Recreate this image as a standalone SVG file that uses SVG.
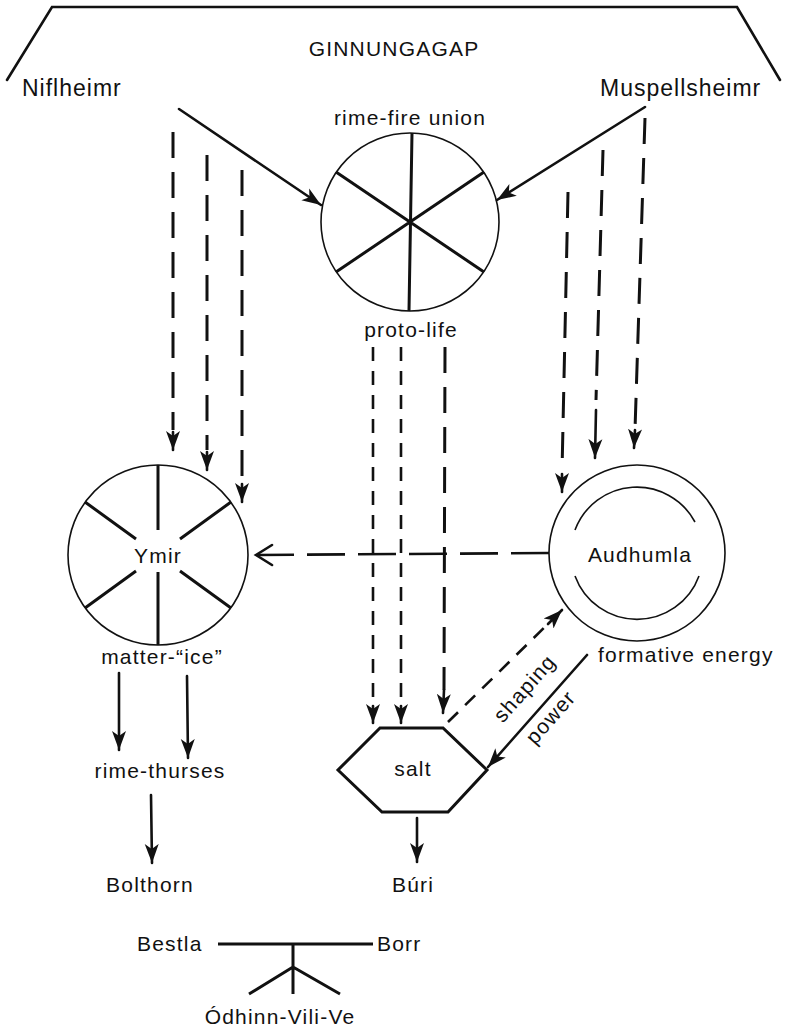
<svg xmlns="http://www.w3.org/2000/svg" width="785" height="1031" viewBox="0 0 785 1031">
<style>
text{font-family:"Liberation Sans",Arial,sans-serif;font-size:21px;letter-spacing:1.2px;fill:#111}
.c{text-anchor:middle}
.big{font-size:23px;letter-spacing:1px}
.ln{stroke:#111;stroke-width:2.6;fill:none;stroke-linecap:round}
.thin{stroke:#111;stroke-width:1.6;fill:none}
.sp{stroke:#111;stroke-width:3;fill:none}
.dash{stroke:#111;stroke-width:3;fill:none;stroke-dasharray:26 14}
.dash2{stroke:#111;stroke-width:2.6;fill:none;stroke-dasharray:38 13}
.dash3{stroke:#111;stroke-width:2.6;fill:none;stroke-dasharray:14 10}
</style>
<defs>
<marker id="ah" markerUnits="userSpaceOnUse" markerWidth="20" markerHeight="16" refX="19" refY="8" orient="auto">
<path d="M0,1 L19,8 L0,15 L5,8 z" fill="#111"/>
</marker>
</defs>
<g id="frame">
<path class="ln" d="M7,80 L52,7 L737,7 L780,80"/>
<text class="c" x="394" y="56">GINNUNGAGAP</text>
</g>
<g id="niflheimr"><text class="big" x="22" y="96">Niflheimr</text></g>
<g id="muspellsheimr"><text class="big" x="600" y="96">Muspellsheimr</text></g>
<g id="rime-fire">
<text class="c" x="410" y="125">rime-fire union</text>
<circle class="thin" cx="410" cy="222" r="89"/>
<path class="sp" d="M412,133 L409,311 M336,172 L484,272 M484,172 L336,272"/>
<text class="c" x="411" y="337">proto-life</text>
</g>
<g id="ymir">
<circle class="thin" cx="158" cy="555" r="90"/>
<path class="sp" d="M158,465 L158,530 M158,572 L158,645 M85,502 L136,539 M231,502 L180,539 M85,608 L136,571 M231,608 L180,571"/>
<text class="c" x="158" y="563">Ymir</text>
<text class="c" x="162" y="664">matter-“ice”</text>
</g>
<g id="audhumla">
<circle class="thin" cx="637" cy="553" r="88"/>
<path class="thin" d="M575,530 A66,66 0 0 1 695,522 M575,576 A66,66 0 0 0 699,576"/>
<text class="c" x="640" y="562">Audhumla</text>
<text x="598" y="662">formative energy</text>
</g>
<g id="salt">
<path class="sp" d="M380,728 L443,728 L487,770 L448,812 L382,812 L338,770 z" stroke-linejoin="miter"/>
<text class="c" x="413" y="776">salt</text>
</g>
<g id="labels">
<text class="c" x="160" y="778">rime-thurses</text>
<text class="c" x="150" y="892">Bolthorn</text>
<text class="c" x="413" y="892">Búri</text>
<text x="137" y="951">Bestla</text>
<text x="377" y="951">Borr</text>
<text class="c" x="280" y="1024">Ódhinn-Vili-Ve</text>
<text class="c" transform="translate(530,693) rotate(-48.5)" x="0" y="0">shaping</text>
<text class="c" transform="translate(556,722) rotate(-48.5)" x="0" y="0">power</text>
</g>
<g id="connectors">
<path class="ln" d="M179,109 L321,205" marker-end="url(#ah)"/>
<path class="ln" d="M645,107 L497,200" marker-end="url(#ah)"/>
<path class="dash" d="M173,132 L173,430"/><path class="ln" d="M173,432 L173,450" marker-end="url(#ah)"/>
<path class="dash" d="M207,155 L207,450"/><path class="ln" d="M207,452 L207,470" marker-end="url(#ah)"/>
<path class="dash" d="M242,170 L242,482"/><path class="ln" d="M242,484 L242,502" marker-end="url(#ah)"/>
<path class="dash" d="M645,118 L635,430"/><path class="ln" d="M635,430 L634,448" marker-end="url(#ah)"/>
<path class="dash" d="M603,150 L596,400"/><path class="ln" d="M596,410 L595,458" marker-end="url(#ah)"/>
<path class="dash" d="M568,192 L562,472"/><path class="ln" d="M562,474 L562,492" marker-end="url(#ah)"/>
<path class="dash3" d="M373,347 L373,705"/><path class="ln" d="M373,706 L373,723" marker-end="url(#ah)"/>
<path class="dash3" d="M401,347 L401,705"/><path class="ln" d="M401,706 L401,723" marker-end="url(#ah)"/>
<path class="dash" d="M445,347 L444,690"/><path class="ln" d="M444,690 L443,713" marker-end="url(#ah)"/>
<path class="dash2" d="M549,553 L258,555"/>
<path class="ln" d="M272,545 L256,555 L272,565"/>
<path class="dash3" d="M448,722 L552,620"/><path class="ln" d="M548,624 L562,610" marker-end="url(#ah)"/>
<path class="ln" d="M587,655 L488,767" marker-end="url(#ah)"/>
<path class="ln" d="M119,673 L119,750" marker-end="url(#ah)"/>
<path class="ln" d="M187,676 L188,758" marker-end="url(#ah)"/>
<path class="ln" d="M151,795 L152,863" marker-end="url(#ah)"/>
<path class="ln" d="M417,818 L417,862" marker-end="url(#ah)"/>
<path class="sp" d="M218,944 L373,944 M293,944 L293,994 M293,967 L249,994 M293,967 L340,994"/>
</g>
</svg>
